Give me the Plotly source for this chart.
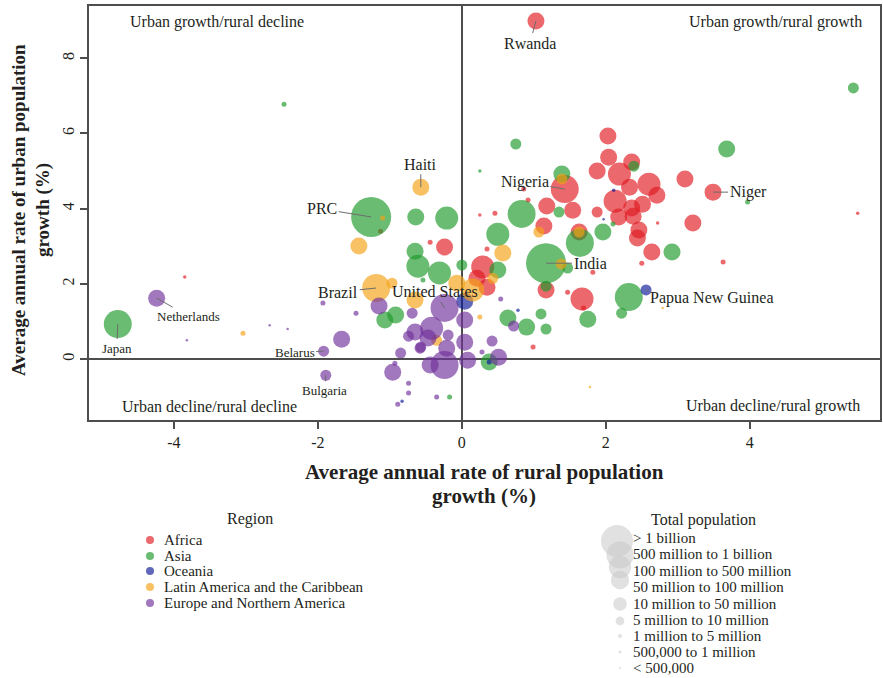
import plotly.graph_objects as go

# Population classes (legend order) and the bubble diameter used for each class
POP_CLASSES = [
    "> 1 billion", "500 million to 1 billion", "100 million to 500 million",
    "50 million to 100 million", "10 million to 50 million", "5 million to 10 million",
    "1 million to 5 million", "500,000 to 1 million", "< 500,000",
]
CLASS_DIAMETER = [40, 34, 28, 23, 17, 11, 5, 3.5, 2.5]

REGIONS = ["Africa", "Asia", "Oceania", "Latin America and the Caribbean",
           "Europe and Northern America"]
REGION_COLORS = ["#e11a21", "#1f9a2a", "#0d1a99", "#f4a213", "#70309b"]

X_TICKS = [-4, -2, 0, 2, 4]
X_TICK_TEXT = ["-4", "-2", "0", "2", "4"]
Y_TICKS = [0, 2, 4, 6, 8]

# Average annual rate of rural growth (%), urban growth (%), population class index
africa_rural = [1.03, 1.43, 3.49, 2.03, 2.04, 1.88, 2.36, 2.19, 3.10, 2.60, 2.33, 2.71, 2.13,
                2.51, 2.36, 2.38, 2.18, 2.46, 2.44, 2.64, 1.18, 1.54, 1.88, 1.14, 1.63, 3.21,
                1.67, 1.17, -0.24, 0.29, 0.21, 0.35, -0.44, -1.13, -3.85, 3.63, 5.50, 2.72,
                2.50, 1.82, 0.99, 0.46, 0.25, 0.35, 0.86, 0.92, 1.47, 1.69]
africa_urban = [8.99, 4.52, 4.44, 5.93, 5.37, 5.00, 5.24, 4.92, 4.79, 4.65, 4.57, 4.36, 4.20,
                4.12, 4.02, 3.80, 3.78, 3.43, 3.22, 2.85, 4.07, 3.96, 3.91, 3.54, 3.38, 3.62,
                1.60, 1.84, 2.98, 2.45, 2.15, 1.91, 3.11, 3.40, 2.18, 2.58, 3.88, 3.62,
                2.55, 2.31, 0.32, 3.88, 3.83, 2.93, 4.52, 4.23, 1.78, 1.36]
africa_pop = [4, 2, 4, 4, 4, 4, 4, 3, 4, 3, 4, 4, 3,
              4, 4, 4, 4, 4, 4, 4, 4, 4, 5, 4, 4, 4,
              3, 4, 4, 3, 4, 4, 6, 6, 7, 6, 7, 7,
              6, 6, 6, 6, 7, 6, 6, 6, 6, 6]

asia_rural = [-1.26, 1.17, -4.78, -2.47, 5.44, 0.75, 2.39, 3.68, 1.39, 0.83, 1.35, 1.96, 1.64,
              2.92, 2.32, 2.22, 1.75, 1.17, 0.64, 0.90, 1.10, 1.17, 0.38, 0.50, 0.50, -0.64,
              -0.21, -0.65, -0.61, -0.31, 0.00, -0.54, -0.92, -1.07, 3.97, 0.25, -0.17, 1.47,
              2.10]
asia_urban = [3.78, 2.55, 0.93, 6.78, 7.21, 5.72, 5.13, 5.59, 4.92, 3.86, 3.91, 3.38, 3.09,
              2.85, 1.65, 1.22, 1.06, 1.94, 1.09, 0.85, 1.20, 0.80, -0.08, 3.32, 2.37, 3.78,
              3.75, 2.87, 2.47, 2.29, 2.50, 2.10, 1.17, 1.04, 4.18, 5.00, -1.01, 2.42,
              3.59]
asia_pop = [0, 0, 2, 6, 5, 5, 5, 4, 4, 2, 5, 4, 2,
            4, 2, 5, 4, 5, 4, 4, 5, 5, 4, 3, 4, 4,
            3, 4, 3, 3, 5, 6, 4, 4, 6, 7, 6, 5,
            6]

oceania_rural = [2.56, 0.04, 2.11, 0.78, 0.38, -0.83, 1.97]
oceania_urban = [1.84, 1.54, 4.49, 1.30, -0.08, -1.12, 3.72]
oceania_pop = [5, 4, 7, 7, 6, 7, 8]

latam_rural = [-0.57, -1.19, -1.43, -0.97, -0.65, -0.07, 0.15, 0.43, 0.57, 1.39, 1.63, -1.10,
               -3.04, -0.35, 0.25, 2.79, 1.38, 1.78, 1.07]
latam_urban = [4.57, 1.89, 3.01, 2.02, 1.57, 2.02, 1.84, 2.15, 2.82, 4.79, 3.38, 3.75,
               0.69, 0.50, 1.12, 1.36, 2.53, -0.74, 3.38]
latam_pop = [4, 2, 4, 5, 4, 4, 3, 5, 4, 5, 5, 6,
             6, 5, 6, 8, 5, 8, 5]

europe_rural = [-0.24, -4.24, -1.92, -1.89, -1.15, -0.69, -0.42, -0.65, -0.47, -0.74, -0.58,
                -0.19, -0.21, 0.04, -0.24, -0.44, 0.08, 0.04, -0.85, -0.96, -0.93, -0.74,
                -0.74, -0.35, -0.89, -1.67, -1.93, -1.47, 0.51, 0.42, 0.72, 0.28, 0.54, -0.57,
                -2.67, -2.42, -3.82]
europe_urban = [1.36, 1.62, 0.21, -0.43, 1.41, 1.22, 0.82, 0.72, 0.56, 0.61, 0.29,
                0.64, 0.29, 0.45, -0.16, -0.16, -0.03, 1.04, 0.16, -0.35, -0.11, -0.64,
                -0.90, -1.01, -1.20, 0.53, 1.49, 1.22, 0.05, 0.48, 0.88, 0.19, 1.60, 0.32,
                0.90, 0.80, 0.50]
europe_pop = [2, 4, 5, 5, 4, 5, 3, 4, 4, 5, 5,
              5, 4, 4, 2, 4, 4, 4, 5, 4, 6, 6,
              6, 6, 6, 4, 6, 6, 4, 5, 5, 6, 6, 5,
              8, 8, 8]

region_data = [
    (africa_rural, africa_urban, africa_pop),
    (asia_rural, asia_urban, asia_pop),
    (oceania_rural, oceania_urban, oceania_pop),
    (latam_rural, latam_urban, latam_pop),
    (europe_rural, europe_urban, europe_pop),
]

# Named countries: (label, region index, position in that region's lists, text offset px, font size)
LABELS = [
    ("Rwanda", 0, 0, (-6, 22), 16),
    ("Nigeria", 0, 1, (-40, -7), 16),
    ("Niger", 0, 2, (35, 0), 16),
    ("PRC", 1, 0, (-49, -8), 16),
    ("India", 1, 1, (44, 0), 16),
    ("Japan", 1, 2, (-1, 24), 13),
    ("Papua New Guinea", 2, 0, (66, 8), 16),
    ("Haiti", 3, 0, (0, -23), 16),
    ("Brazil", 3, 1, (-38, 4), 16),
    ("United States", 4, 0, (-10, -16), 16),
    ("Netherlands", 4, 1, (32, 18), 13),
    ("Belarus", 4, 2, (-29, 1), 13),
    ("Bulgaria", 4, 3, (-1, 15), 13),
]

QUADRANTS = ["Urban growth/rural decline", "Urban growth/rural growth",
             "Urban decline/rural decline", "Urban decline/rural growth"]

FONT = "Liberation Serif, Times New Roman, serif"
TEXT = "#231f20"
AXIS = "#4d4d4d"

W, H = 883, 678
ML, MR, MT, MB = 89, 3, 6, 258


def px(x):
    return (x - ML) / (W - ML - MR)


def py(y):
    return (H - MB - y) / (H - MT - MB)


fig = go.Figure()

for name, color, (rx, ux, pc) in zip(REGIONS, REGION_COLORS, region_data):
    fig.add_trace(go.Scatter(
        x=rx, y=ux, mode="markers", name=name,
        marker=dict(size=[CLASS_DIAMETER[c] for c in pc], color=color,
                    opacity=0.66, line=dict(width=0)),
        showlegend=False,
        hovertemplate=name + "<br>rural %{x:.2f}%<br>urban %{y:.2f}%<extra></extra>",
    ))

annotations = []
for label, ri, idx, (ax, ay), fs in LABELS:
    rx, ux, _ = region_data[ri]
    annotations.append(dict(
        x=rx[idx], y=ux[idx], xref="x", yref="y", text=label,
        showarrow=True, arrowhead=0, arrowwidth=1, arrowcolor="#6d6d6d",
        ax=ax, ay=ay, standoff=0, startstandoff=0,
        font=dict(family=FONT, size=fs, color=TEXT),
    ))

# quadrant captions
quad_pos = [(128, 22, "left"), (864, 22, "right"), (120, 406, "left"), (862, 406, "right")]
for text, (x, y, anchor) in zip(QUADRANTS, quad_pos):
    annotations.append(dict(
        x=px(x), y=py(y), xref="paper", yref="paper", text=text, showarrow=False,
        xanchor=anchor, yanchor="middle", font=dict(family=FONT, size=16, color=TEXT),
    ))

# axis titles
for text, y in [("Average annual rate of rural population", 472), ("growth (%)", 496)]:
    annotations.append(dict(
        x=px(484), y=py(y), xref="paper", yref="paper", text="<b>%s</b>" % text,
        showarrow=False, xanchor="center", yanchor="middle",
        font=dict(family=FONT, size=21, color=TEXT),
    ))
for text, x in [("Average annual rate of urban population", 18), ("growth (%)", 43)]:
    annotations.append(dict(
        x=px(x), y=py(210), xref="paper", yref="paper", text="<b>%s</b>" % text,
        showarrow=False, xanchor="center", yanchor="middle", textangle=-90,
        font=dict(family=FONT, size=19, color=TEXT),
    ))

shapes = []

# region legend
annotations.append(dict(x=px(250), y=py(519), xref="paper", yref="paper", text="Region",
                        showarrow=False, xanchor="center", yanchor="middle",
                        font=dict(family=FONT, size=16, color=TEXT)))
region_rows = [540, 556, 571, 587, 603]
for name, color, row in zip(REGIONS, REGION_COLORS, region_rows):
    annotations.append(dict(x=px(162), y=py(row), xref="paper", yref="paper", text=name,
                            showarrow=False, xanchor="left", yanchor="middle",
                            font=dict(family=FONT, size=15, color=TEXT)))
    shapes.append(dict(type="circle", xref="paper", yref="paper",
                       x0=px(146), x1=px(154), y0=py(row + 4), y1=py(row - 4),
                       fillcolor=color, opacity=0.66, line=dict(width=0)))

# population-size legend
annotations.append(dict(x=px(703), y=py(520), xref="paper", yref="paper",
                        text="Total population", showarrow=False, xanchor="center",
                        yanchor="middle", font=dict(family=FONT, size=16, color=TEXT)))
size_rows = [538, 554, 571, 587, 604, 620, 636, 652, 668]
size_centers = [541, 555, 567, 580, 604, 621, 636, 652, 668]
for label, d, row, cy in zip(POP_CLASSES, CLASS_DIAMETER, size_rows, size_centers):
    annotations.append(dict(x=px(631), y=py(row), xref="paper", yref="paper", text=label,
                            showarrow=False, xanchor="left", yanchor="middle",
                            font=dict(family=FONT, size=15, color=TEXT)))
    r = d * 0.8 / 2
    cx = 620 - (3 if d >= 40 else 0)
    shapes.append(dict(type="circle", xref="paper", yref="paper",
                       x0=px(cx - r), x1=px(cx + r), y0=py(cy + r), y1=py(cy - r),
                       fillcolor="#c8c8c8", opacity=0.55, line=dict(width=0)))

axis_common = dict(
    showgrid=False, zeroline=True, zerolinecolor=AXIS, zerolinewidth=1.5,
    showline=True, mirror=True, linecolor=AXIS, linewidth=1.5,
    ticks="outside", ticklen=7, tickwidth=1.5, tickcolor=AXIS,
    tickfont=dict(family=FONT, size=16, color=TEXT),
)

fig.update_layout(
    width=W, height=H,
    margin=dict(l=ML, r=MR, t=MT, b=MB, autoexpand=False),
    paper_bgcolor="white", plot_bgcolor="white",
    showlegend=False,
    xaxis=dict(range=[-5.18, 5.81], tickvals=X_TICKS, ticktext=X_TICK_TEXT, **axis_common),
    yaxis=dict(range=[-1.62, 9.39], tickvals=Y_TICKS, tickangle=-90, **axis_common),
    annotations=annotations,
    shapes=shapes,
)

fig.write_html("out.html")
